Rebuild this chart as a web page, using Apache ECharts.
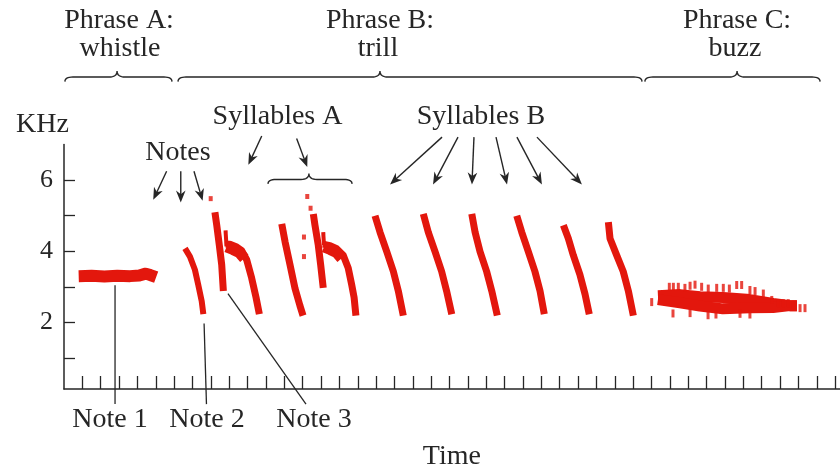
<!DOCTYPE html>
<html><head><meta charset="utf-8">
<script src="https://cdn.jsdelivr.net/npm/echarts@6/dist/echarts.min.js"></script>
<style>html,body{margin:0;padding:0;background:#fff}#c{width:840px;height:476px}</style>
</head><body><div id="c"></div>
<script>
// ---------- axis ticks / labels ----------
const xTicks = [1,2,3,4,5,6,7,8,9,10,11,12,13,14,15,16,17,18,19,20,21,22,23,24,25,26,27,28,29,30,31,32,33,34,35,36,37,38,39,40,41,42];
const yTicks = [1,2,3,4,5,6];
const yTickLabels = [2,4,6];

// ---------- spectrogram traces: [time, KHz] ----------
const whistleNote1 = [[0.80,3.30],[1.50,3.31],[2.20,3.29],[2.90,3.31],[3.60,3.30],[4.10,3.32],[4.45,3.37],[4.70,3.33],[5.02,3.27]];
const note2 = [[6.59,4.08],[6.86,3.85],[7.13,3.48],[7.31,3.06],[7.50,2.60],[7.59,2.23]];
const note3Stem = [[8.22,5.10],[8.32,4.73],[8.46,4.17],[8.59,3.62],[8.68,2.88]];
const note3Spur = [[8.80,4.59],[8.85,4.14]];
const note3Tail = [[8.80,4.20],[9.04,4.20],[9.41,4.12],[9.68,4.02],[9.95,3.76],[10.22,3.25],[10.46,2.70],[10.64,2.23]];
const note3Body = [[8.85,4.12],[9.20,4.05],[9.55,3.96],[9.82,3.80]];
const sylA2Down = [[11.86,4.77],[12.04,4.27],[12.31,3.62],[12.58,2.96],[12.85,2.47],[13.02,2.19]];
const sylA2Stem = [[13.58,5.05],[13.67,4.73],[13.85,4.17],[13.98,3.62],[14.12,2.97]];
const sylA2Spur = [[14.12,4.54],[14.16,4.17]];
const sylA2Tail = [[14.10,4.20],[14.49,4.16],[14.85,4.07],[15.21,3.89],[15.48,3.53],[15.67,3.06],[15.80,2.70],[15.90,2.19]];
const sylA2Body = [[14.16,4.12],[14.50,4.05],[14.85,3.96],[15.12,3.80]];
const isolatedDots = [[7.99,5.48],[13.25,5.54],[13.43,5.21],[13.07,4.40],[13.07,3.85]];
const sylB1 = [[16.94,5.00],[17.21,4.54],[17.58,3.99],[17.94,3.43],[18.21,2.88],[18.48,2.19]];
const sylB2 = [[19.57,5.05],[19.84,4.54],[20.21,3.99],[20.57,3.43],[20.84,2.88],[21.12,2.23]];
const sylB3 = [[22.21,5.05],[22.39,4.54],[22.66,3.99],[23.02,3.43],[23.30,2.88],[23.60,2.19]];
const sylB4 = [[24.66,5.00],[24.93,4.54],[25.29,3.99],[25.65,3.43],[25.93,2.88],[26.16,2.23]];
const sylB5 = [[27.20,4.73],[27.47,4.36],[27.74,3.89],[28.10,3.34],[28.38,2.79],[28.61,2.23]];
const sylB6 = [[29.65,4.82],[29.74,4.36],[30.10,3.89],[30.46,3.43],[30.74,2.88],[31.01,2.19]];
const buzzUpper = [[32.35,2.75],[33.55,2.78],[34.64,2.72],[35.89,2.70],[37.36,2.64],[38.62,2.53],[39.54,2.47],[39.92,2.47]];
const buzzLower = [[32.35,2.64],[33.55,2.55],[34.64,2.46],[35.89,2.38],[37.36,2.41],[38.62,2.42],[39.54,2.47],[39.92,2.47]];
const buzzSpikes = [[32.97,3.00],[33.19,3.00],[33.46,3.00],[33.82,2.97],[34.10,3.03],[34.37,3.06],[34.73,3.00],[35.09,2.95],[35.55,2.97],[35.91,2.97],[36.24,2.95],[36.64,3.05],[36.91,3.05],[37.36,2.91],[37.64,2.88],[38.09,2.81],[38.55,2.63],[38.91,2.54],[39.18,2.54],[39.45,2.54],[39.72,2.49],[32.01,2.57],[40.09,2.40],[40.36,2.40],[33.17,2.25],[34.10,2.26],[35.08,2.20],[35.51,2.22],[36.82,2.24],[37.36,2.22]];

// ---------- annotations (anchored in data units) ----------
const annotationTexts = [
  {text:'Phrase A:', at:[3.00,10.48]}, {text:'whistle', at:[3.05,9.70]},
  {text:'Phrase B:', at:[17.21,10.48]}, {text:'trill', at:[17.10,9.70]},
  {text:'Phrase C:', at:[36.66,10.48]}, {text:'buzz', at:[36.55,9.70]},
  {text:'Notes', at:[6.21,6.77]},
  {text:'Syllables A', at:[11.63,7.79]}, {text:'Syllables B', at:[22.71,7.79]},
  {text:'Note 1', at:[2.51,-0.74]}, {text:'Note 2', at:[7.79,-0.74]}, {text:'Note 3', at:[13.62,-0.74]}
];
const annotationArrows = [
  {from:[5.59,6.25], to:[4.86,5.45]}, {from:[6.36,6.25], to:[6.36,5.37]}, {from:[7.08,6.25], to:[7.55,5.42]},
  {from:[10.77,7.24], to:[10.04,6.43]}, {from:[12.67,7.17], to:[13.25,6.37]},
  {from:[20.59,7.21], to:[17.76,5.88]}, {from:[21.46,7.21], to:[20.10,5.88]}, {from:[22.33,7.21], to:[22.22,5.88]},
  {from:[23.53,7.21], to:[24.13,5.88]}, {from:[24.67,7.21], to:[26.03,5.88]}, {from:[25.76,7.21], to:[28.21,5.88]}
];
const leaderLines = [
  {from:[2.78,3.04], to:[2.78,-0.30]}, {from:[7.63,1.97], to:[7.76,-0.30]}, {from:[8.93,2.81], to:[13.18,-0.30]}
];
const braces = [
  {t0:0.05, t1:5.88, tm:2.89, v:8.90}, {t0:6.21, t1:31.48, tm:17.21, v:8.90},
  {t0:31.64, t1:41.18, tm:36.66, v:8.90}, {t0:11.11, t1:15.69, tm:13.34, v:6.02}
];

const FONT = '"Liberation Serif", "Times New Roman", serif';
const INK = '#262626';
const RED = '#e3170d';

function trace(data, w) {
  return {type:'line', data: data, symbol:'none', showSymbol:false, silent:true, clip:false, z:2,
    lineStyle:{color:RED, width:w, cap:'butt', join:'round'}};
}
const series = [
  trace(whistleNote1, 12), trace(note2, 6),
  trace(note3Stem, 7), trace(note3Spur, 4), trace(note3Tail, 7), trace(note3Body, 11),
  trace(sylA2Down, 7), trace(sylA2Stem, 7), trace(sylA2Spur, 4), trace(sylA2Tail, 7), trace(sylA2Body, 11),
  trace(sylB1, 7), trace(sylB2, 7), trace(sylB3, 7), trace(sylB4, 7), trace(sylB5, 7), trace(sylB6, 7),
  trace(buzzUpper, 11), trace(buzzLower, 11),
  {type:'scatter', data: isolatedDots, symbol:'rect', symbolSize:[4,5], itemStyle:{color:RED}, silent:true, z:2},
  {type:'scatter', data: buzzSpikes, symbol:'rect', symbolSize:[3,8], itemStyle:{color:RED}, silent:true, z:2}
];

const chart = echarts.init(document.getElementById('c'), null, {renderer:'canvas'});
chart.setOption({
  animation:false,
  backgroundColor:'#ffffff',
  grid:{left:64, right:0.3, top:144.6, bottom:83.2, containLabel:false},
  xAxis:{type:'value', min:0, max:42.25,
    axisLine:{show:true, lineStyle:{color:INK, width:1.5}},
    axisTick:{show:true, inside:true, length:13, customValues:xTicks, lineStyle:{color:INK, width:1.3}},
    axisLabel:{show:false}, splitLine:{show:false},
    name:'Time', nameLocation:'middle', nameGap:54,
    nameTextStyle:{fontFamily:FONT, fontSize:28, color:INK}},
  yAxis:{type:'value', min:0.125, max:7,
    axisLine:{show:true, lineStyle:{color:INK, width:1.5}},
    axisTick:{show:true, inside:true, length:11, customValues:yTicks, lineStyle:{color:INK, width:1.3}},
    axisLabel:{show:true, customValues:yTickLabels, margin:11, fontFamily:FONT, fontSize:26, color:INK},
    splitLine:{show:false},
    name:'KHz', nameLocation:'end', nameGap:6,
    nameTextStyle:{fontFamily:FONT, fontSize:28, color:INK, padding:[0,43,0,0]}},
  series: series
});

// ---------- annotation graphics placed through the chart's own scales ----------
function px(p){ return chart.convertToPixel({xAxisIndex:0, yAxisIndex:0}, p); }
const g = [];
annotationTexts.forEach(function(l){
  const p = px(l.at);
  g.push({type:'text', x:p[0], y:p[1], silent:true, z:10,
    style:{text:l.text, font:'28px ' + FONT, fill:INK, align:'center', verticalAlign:'middle', textAlign:'center', textVerticalAlign:'middle'}});
});
annotationArrows.forEach(function(a){
  const p0 = px(a.from), p1 = px(a.to);
  const dx = p1[0]-p0[0], dy = p1[1]-p0[1], len = Math.hypot(dx,dy);
  const ux = dx/len, uy = dy/len, nx = -uy, ny = ux, L = 12, W = 4.8;
  const bx = p1[0]-ux*L, by = p1[1]-uy*L;
  g.push({type:'line', silent:true, z:10, shape:{x1:p0[0], y1:p0[1], x2:p1[0]-ux*L*0.6, y2:p1[1]-uy*L*0.6},
    style:{stroke:INK, lineWidth:1.4}});
  g.push({type:'polygon', silent:true, z:10, shape:{points:[[p1[0],p1[1]],[bx+nx*W,by+ny*W],[p1[0]-ux*L*0.7,p1[1]-uy*L*0.7],[bx-nx*W,by-ny*W]]},
    style:{fill:INK}});
});
leaderLines.forEach(function(a){
  const p0 = px(a.from), p1 = px(a.to);
  g.push({type:'line', silent:true, z:10, shape:{x1:p0[0], y1:p0[1], x2:p1[0], y2:p1[1]}, style:{stroke:INK, lineWidth:1.3}});
});
function quad(p0, c, p1, n, out){
  for (let i = 1; i <= n; i++) { const t = i/n;
    out.push([(1-t)*(1-t)*p0[0] + 2*(1-t)*t*c[0] + t*t*p1[0], (1-t)*(1-t)*p0[1] + 2*(1-t)*t*c[1] + t*t*p1[1]]); }
}
braces.forEach(function(b){
  const a = px([b.t0,b.v]), e = px([b.t1,b.v]), m = px([b.tm,b.v]);
  const xa = a[0], xb = e[0], xm = m[0], y0 = a[1], r = 8, hd = 4.5, pk = 6;
  const pts = [[xa, y0+hd]];
  quad([xa,y0+hd],[xa,y0],[xa+r,y0],8,pts);
  pts.push([xm-r,y0]);
  quad([xm-r,y0],[xm,y0],[xm,y0-pk],8,pts);
  quad([xm,y0-pk],[xm,y0],[xm+r,y0],8,pts);
  pts.push([xb-r,y0]);
  quad([xb-r,y0],[xb,y0],[xb,y0+hd],8,pts);
  g.push({type:'polyline', silent:true, z:10, shape:{points:pts}, style:{stroke:INK, lineWidth:1.4, fill:null}});
});
chart.setOption({graphic:{elements:g}});
</script>
</body></html>
